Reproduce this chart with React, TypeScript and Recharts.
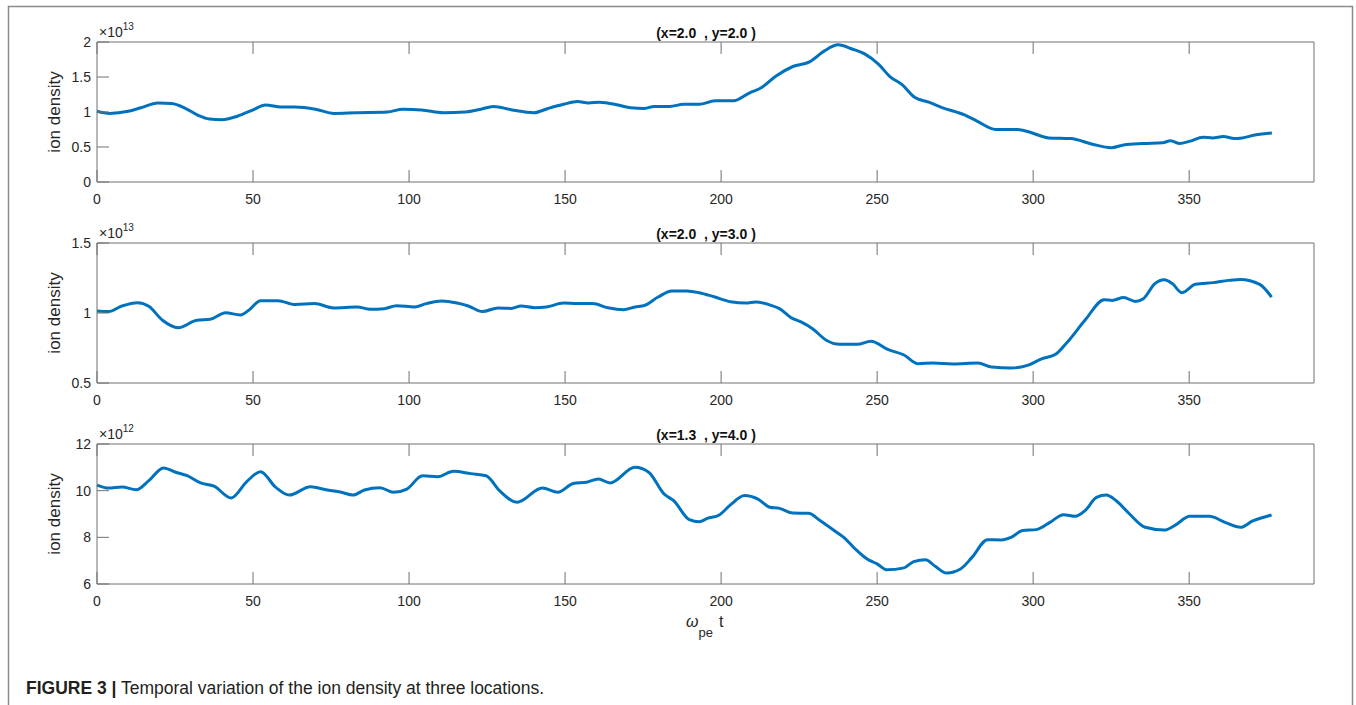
import React from 'react';
import { LineChart, Line, XAxis, YAxis } from 'recharts';

// time axis (ω_pe t) and ion density for the three probe locations
const t1 = [0, 4, 10, 14, 19.5, 24, 28, 32.5, 36, 40, 45, 50, 54, 59, 63.5, 70, 76, 83, 93, 98, 104, 111, 118, 123, 127, 133, 140, 144.5, 149.5, 154, 157.5, 161, 167, 171, 175.5, 178.5, 183.5, 188, 193, 198, 204, 209, 213, 217.5, 223, 228.5, 233, 237.5, 242, 246, 250.5, 254, 258, 262, 266.5, 271, 278, 282, 288, 295, 299, 305, 312, 319, 325, 329, 335, 341.5, 344, 347, 350, 354.5, 357.5, 361, 364.5, 367, 371, 376.5];
const n1 = [1.01, 0.98, 1.01, 1.06, 1.13, 1.12, 1.06, 0.95, 0.9, 0.89, 0.94, 1.03, 1.1, 1.07, 1.07, 1.04, 0.98, 0.99, 1.0, 1.04, 1.03, 0.99, 1.0, 1.04, 1.08, 1.03, 0.99, 1.05, 1.11, 1.15, 1.13, 1.14, 1.1, 1.06, 1.05, 1.08, 1.08, 1.11, 1.11, 1.16, 1.16, 1.27, 1.35, 1.51, 1.65, 1.72, 1.87, 1.96, 1.9, 1.83, 1.68, 1.51, 1.39, 1.21, 1.14, 1.06, 0.96, 0.87, 0.75, 0.75, 0.71, 0.63, 0.62, 0.54, 0.49, 0.53, 0.55, 0.56, 0.59, 0.55, 0.58, 0.64, 0.63, 0.65, 0.62, 0.63, 0.67, 0.7];

const t2 = [0, 3.7, 8, 13, 16.6, 21, 26, 32, 36.3, 41.2, 46, 48.6, 52.4, 58, 63.5, 69.7, 75.9, 83.3, 87.6, 92, 96, 101.8, 105.5, 110.5, 115.4, 119, 123.5, 128.5, 132.8, 135.9, 140.2, 144, 149.5, 153.8, 158.8, 163.7, 168.7, 172.4, 175.5, 179.8, 184.2, 189, 193, 198, 203, 208, 211, 216, 218.7, 222.4, 225.6, 229.3, 233.7, 238, 243.6, 248, 253.6, 258.6, 263, 267.9, 274.2, 282.3, 286.7, 292.9, 297.9, 302.9, 307.2, 311, 316.6, 322.8, 325.3, 329, 332.8, 335.3, 339, 342, 344.6, 347.7, 352, 357.7, 362.6, 366.4, 372.6, 376.4];
const n2 = [1.014, 1.01, 1.05, 1.074, 1.048, 0.948, 0.895, 0.948, 0.955, 1.002, 0.986, 1.019, 1.088, 1.088, 1.06, 1.067, 1.036, 1.043, 1.026, 1.031, 1.052, 1.043, 1.067, 1.086, 1.071, 1.05, 1.01, 1.036, 1.033, 1.05, 1.038, 1.043, 1.071, 1.067, 1.067, 1.038, 1.024, 1.043, 1.055, 1.114, 1.157, 1.157, 1.145, 1.114, 1.081, 1.071, 1.079, 1.055, 1.031, 0.967, 0.936, 0.888, 0.805, 0.776, 0.776, 0.798, 0.738, 0.7, 0.638, 0.643, 0.636, 0.643, 0.614, 0.607, 0.624, 0.674, 0.705, 0.793, 0.948, 1.095, 1.09, 1.11, 1.083, 1.102, 1.21, 1.238, 1.21, 1.145, 1.205, 1.217, 1.233, 1.24, 1.205, 1.114];

const t3 = [0, 3.7, 8, 12.6, 16.6, 21.3, 25.2, 28.9, 33.2, 37.5, 43, 48, 52.4, 57.3, 61.6, 68.4, 73.4, 78.3, 82, 85.7, 90.7, 95, 99.3, 104.3, 109.2, 114.2, 119.8, 124.7, 129, 134.6, 142.7, 147.7, 152.6, 156.9, 160.7, 164.4, 172.4, 176.8, 181.7, 184.8, 189.8, 193, 195.6, 199.4, 203, 207.5, 211.8, 215.6, 218.7, 223, 228, 231.8, 236.8, 239.3, 243, 246.8, 250, 253, 258.6, 261.7, 265.5, 268.6, 272.3, 276.7, 280.4, 285.4, 289.8, 292.9, 296.6, 301, 305.4, 309.7, 313.5, 316.6, 320.3, 323.4, 326.6, 330.9, 335.9, 342.1, 345.3, 350.2, 356.5, 361.5, 366.5, 370.2, 376.4];
const n3 = [10.24, 10.11, 10.16, 10.04, 10.43, 10.97, 10.79, 10.64, 10.33, 10.19, 9.69, 10.39, 10.81, 10.14, 9.81, 10.17, 10.04, 9.93, 9.81, 10.03, 10.13, 9.93, 10.07, 10.64, 10.6, 10.83, 10.73, 10.64, 10.0, 9.5, 10.11, 9.93, 10.31, 10.36, 10.5, 10.33, 11.0, 10.79, 9.86, 9.57, 8.76, 8.67, 8.81, 8.96, 9.39, 9.79, 9.64, 9.29, 9.24, 9.04, 9.03, 8.71, 8.24, 8.0, 7.5, 7.07, 6.86, 6.61, 6.69, 6.96, 7.04, 6.76, 6.47, 6.64, 7.14, 7.9, 7.89, 8.0, 8.29, 8.33, 8.64, 8.97, 8.9, 9.14, 9.71, 9.81, 9.57, 9.0, 8.43, 8.31, 8.5, 8.9, 8.9, 8.64, 8.43, 8.69, 8.96];

const xTicks = [0, 50, 100, 150, 200, 250, 300, 350];
const yTicks1 = [0, 0.5, 1, 1.5, 2];
const yTicks2 = [0.5, 1, 1.5];
const yTicks3 = [6, 8, 10, 12];
const titles = ['(x=2.0  , y=2.0 )', '(x=2.0  , y=3.0 )', '(x=1.3  , y=4.0 )'];
const exponents = ['13', '13', '12'];

const W = 1356;
const CH = 230; // height of each panel's svg
const M_TOP = 42;
const PLOT_H = 140;
const LEFT = 97;
const RIGHT = 1314;
const TICK = 12;
const AXIS = '#707070';
const TXT = '#262626';
const FONT = '"Liberation Sans", Arial, Helvetica, sans-serif';
const BLUE = '#0072BD';

const bottom = M_TOP + PLOT_H;

const BottomTick = (props: any) => {
  const { x, payload } = props;
  return (
    <g>
      <line x1={x} x2={x} y1={bottom} y2={bottom - TICK} stroke={AXIS} />
      <text x={x} y={bottom + 22} textAnchor="middle" fontSize={14} fill={TXT} fontFamily={FONT}>
        {payload.value}
      </text>
    </g>
  );
};

const TopTick = (props: any) => (
  <line x1={props.x} x2={props.x} y1={M_TOP} y2={M_TOP + TICK} stroke={AXIS} />
);

const LeftTick = (props: any) => {
  const { y, payload } = props;
  return (
    <g>
      <line x1={LEFT} x2={LEFT + TICK} y1={y} y2={y} stroke={AXIS} />
      <text x={LEFT - 6} y={y + 5} textAnchor="end" fontSize={14} fill={TXT} fontFamily={FONT}>
        {payload.value}
      </text>
    </g>
  );
};

const RightTick = (props: any) => (
  <line x1={RIGHT} x2={RIGHT - TICK} y1={props.y} y2={props.y} stroke={AXIS} />
);

type PanelProps = {
  t: number[];
  n: number[];
  yTicks: number[];
  top: number;
};

// every axis takes 1px of room, so the margins give that pixel back
const Panel = ({ t, n, yTicks, top }: PanelProps) => {
  const data = t.map((x, i) => ({ t: x, n: n[i] }));
  const domain = [yTicks[0], yTicks[yTicks.length - 1]];
  return (
    <div style={{ position: 'absolute', left: 0, top }}>
      <LineChart
        width={W}
        height={CH}
        data={data}
        margin={{ top: M_TOP - 1, right: W - RIGHT - 1, bottom: CH - bottom - 1, left: LEFT - 1 }}
      >
        <XAxis
          dataKey="t"
          type="number"
          domain={[0, 390]}
          ticks={xTicks}
          interval={0}
          height={1}
          tickLine={false}
          axisLine={{ stroke: AXIS }}
          tick={<BottomTick />}
        />
        <XAxis
          xAxisId="top"
          orientation="top"
          dataKey="t"
          type="number"
          domain={[0, 390]}
          ticks={xTicks}
          interval={0}
          height={1}
          tickLine={false}
          axisLine={{ stroke: AXIS }}
          tick={<TopTick />}
        />
        <YAxis
          type="number"
          domain={domain}
          ticks={yTicks}
          interval={0}
          width={1}
          tickLine={false}
          axisLine={{ stroke: AXIS }}
          tick={<LeftTick />}
        />
        <YAxis
          yAxisId="right"
          orientation="right"
          type="number"
          domain={domain}
          ticks={yTicks}
          interval={0}
          width={1}
          tickLine={false}
          axisLine={{ stroke: AXIS }}
          tick={<RightTick />}
        />
        <Line
          dataKey="n"
          type="monotone"
          stroke={BLUE}
          strokeWidth={3}
          dot={false}
          isAnimationActive={false}
        />
      </LineChart>
    </div>
  );
};

const panelTops = [0, 201, 402];

export default function App() {
  return (
    <div style={{ position: 'absolute', left: 0, top: 0, width: W, height: 705, background: '#fff', overflow: 'hidden' }}>
      <Panel t={t1} n={n1} yTicks={yTicks1} top={panelTops[0]} />
      <Panel t={t2} n={n2} yTicks={yTicks2} top={panelTops[1]} />
      <Panel t={t3} n={n3} yTicks={yTicks3} top={panelTops[2]} />
      <svg width={W} height={705} style={{ position: 'absolute', left: 0, top: 0, pointerEvents: 'none' }} fontFamily={FONT}>
        <rect x={8.5} y={6.5} width={1344} height={800} fill="none" stroke="#8a8a8a" strokeWidth={1.5} />
        {panelTops.map((pt, i) => {
          const pTop = pt + M_TOP;
          const mid = pTop + PLOT_H / 2;
          return (
            <g key={i}>
              <text x={706} y={pTop - 4} textAnchor="middle" fontSize={14} fontWeight="bold" fill="#111" xmlSpace="preserve">
                {titles[i]}
              </text>
              <text x={99} y={pTop - 5} fontSize={14} fill={TXT}>
                ×10
                <tspan dy={-7} fontSize={10}>{exponents[i]}</tspan>
              </text>
              <text x={60} y={mid} transform={`rotate(-90 60 ${mid})`} textAnchor="middle" fontSize={17} fill={TXT}>
                ion density
              </text>
            </g>
          );
        })}
        <text x={686} y={627} fontSize={16} fill={TXT}>
          <tspan fontStyle="italic">ω</tspan>
          <tspan dy={10} fontSize={13}>pe</tspan>
          <tspan dy={-10} dx={6}>t</tspan>
        </text>
        <text x={26} y={694} fontSize={17.5} fill="#231f20">
          <tspan fontWeight="bold">FIGURE 3 |</tspan>
          <tspan xmlSpace="preserve"> Temporal variation of the ion density at three locations.</tspan>
        </text>
      </svg>
    </div>
  );
}
